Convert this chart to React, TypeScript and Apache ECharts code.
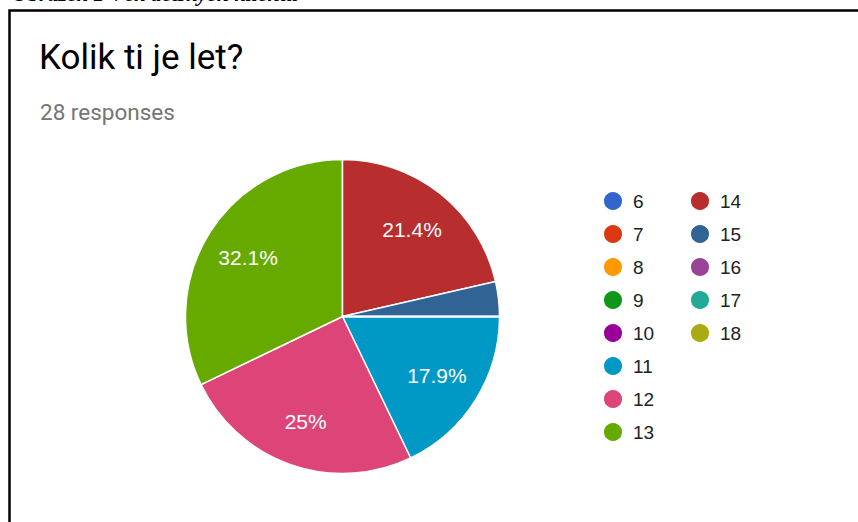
import React, { useEffect, useRef } from "react";
import * as echarts from "echarts";

const categories = ["6", "7", "8", "9", "10", "11", "12", "13", "14", "15", "16", "17", "18"];
const counts = [0, 0, 0, 0, 0, 5, 7, 9, 6, 1, 0, 0, 0];
const colors = [
  "#3366CC", "#DC3912", "#FF9900", "#109618", "#990099", "#0099C6", "#DD4477",
  "#66AA00", "#B82E2E", "#316395", "#994499", "#22AA99", "#AAAA11",
];
const legendCol1 = categories.slice(0, 8);
const legendCol2 = categories.slice(8);
const titleText = "Kolik ti je let?";
const subtitleText = "28 responses";
const captionText = "Obrázek 1 Věk dětských klientů";

export default function App() {
  const ref = useRef<HTMLDivElement>(null);
  useEffect(() => {
    if (!ref.current) return;
    const chart = echarts.init(ref.current, undefined, { renderer: "svg" });
    const total = counts.reduce((a, b) => a + b, 0);
    const pieData = categories.map((c, i) => ({
      name: c,
      value: counts[i],
      itemStyle: { color: colors[i] },
    }));
    const labelData = categories.map((c, i) => ({
      name: c,
      value: counts[i],
      label: { show: counts[i] / total > 0.05 },
    }));
    const legendBase = {
      orient: "vertical" as const,
      icon: "circle",
      itemWidth: 20,
      itemHeight: 20,
      itemGap: 11,
      padding: 0,
      selectedMode: false,
      textStyle: {
        fontFamily: "Liberation Sans, Arial, sans-serif",
        fontSize: 19,
        lineHeight: 20,
        color: "#222222",
        padding: [0, 0, 0, 5],
      },
    };
    chart.setOption({
      animation: false,
      backgroundColor: "#ffffff",
      legend: [
        { ...legendBase, left: 602, top: 190, data: legendCol1 },
        { ...legendBase, left: 689, top: 190, data: legendCol2 },
      ],
      series: [
        {
          type: "pie",
          center: [342.5, 316.5],
          radius: [0, 157],
          startAngle: 0,
          clockwise: true,
          silent: true,
          label: { show: false },
          labelLine: { show: false },
          itemStyle: { borderColor: "#ffffff", borderWidth: 1.5 },
          data: pieData,
        },
        {
          type: "pie",
          center: [342.5, 316.5],
          radius: [60, 157],
          startAngle: 0,
          clockwise: true,
          silent: true,
          legendHoverLink: false,
          itemStyle: { color: "rgba(0,0,0,0)" },
          label: {
            position: "inside",
            formatter: (p: any) => `${Math.round(p.percent * 10) / 10}%`,
            color: "#ffffff",
            fontFamily: "Liberation Sans, Arial, sans-serif",
            fontSize: 21,
          },
          labelLine: { show: false },
          data: labelData,
        },
      ],
      graphic: [
        {
          type: "rect",
          shape: { x: 9.5, y: 10.5, width: 1000, height: 1000 },
          style: { fill: "none", stroke: "#000000", lineWidth: 2.5 },
          silent: true,
        },
        {
          type: "text",
          x: 12,
          y: -6.5,
          style: {
            text: captionText,
            font: "italic bold 22px 'Liberation Serif', 'Times New Roman', serif",
            fill: "#000000",
            verticalAlign: "middle",
          },
          silent: true,
        },
        {
          type: "text",
          x: 39,
          y: 57,
          style: {
            text: titleText,
            font: "35px Roboto, 'Noto Sans', sans-serif",
            fill: "#000000",
            verticalAlign: "middle",
          },
          silent: true,
        },
        {
          type: "text",
          x: 40,
          y: 112,
          style: {
            text: subtitleText,
            font: "22.5px Roboto, 'Noto Sans', sans-serif",
            fill: "#757575",
            verticalAlign: "middle",
          },
          silent: true,
        },
      ],
    });
    return () => chart.dispose();
  }, []);
  return (
    <div
      ref={ref}
      style={{ position: "fixed", left: 0, top: 0, width: 858, height: 522, overflow: "hidden" }}
    />
  );
}
